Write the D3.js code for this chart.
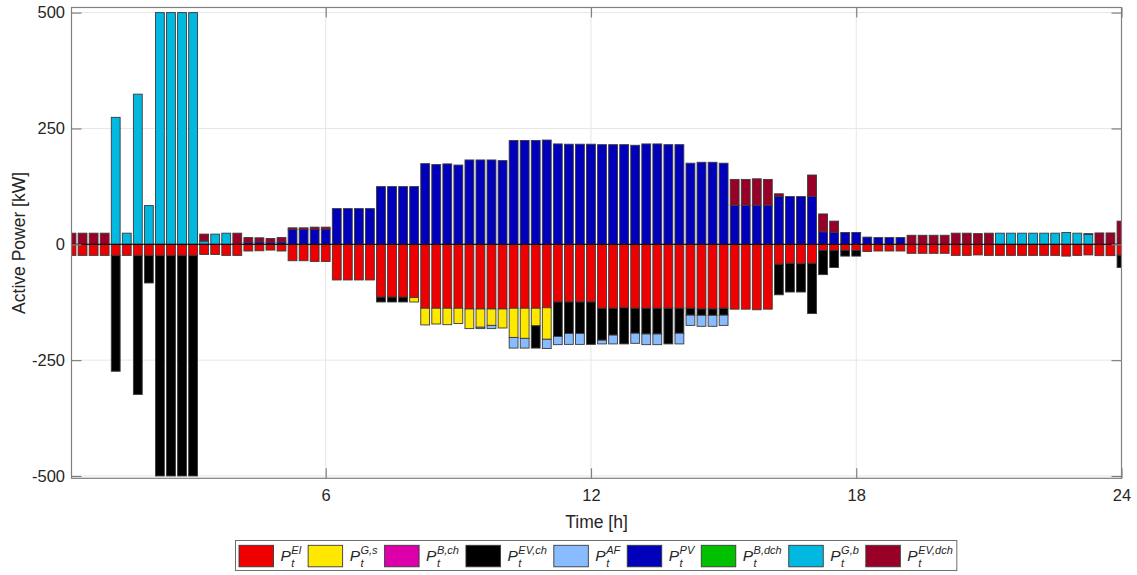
<!DOCTYPE html>
<html>
<head>
<meta charset="utf-8">
<script src="https://cdn.jsdelivr.net/npm/d3@7"></script>
<style>
  html, body { margin: 0; padding: 0; background: #ffffff; }
  svg { display: block; font-family: "Liberation Sans", Arial, Helvetica, sans-serif; }
</style>
</head>
<body>
<svg id="chart" width="1137" height="575"></svg>
<script>
// Time axis: 96 quarter-hour slots, t = 0.25 ... 24 h
const hours = d3.range(1, 97).map(k => k * 0.25);

// Active power per slot [kW]; consumption negative, supply positive (12 slots per row = 3 h)
const pEl = [
  -24, -24, -24, -24, -24, -24, -24, -24, -24, -24, -24, -24,
  -22, -22, -24, -24, -14.5, -14, -12.5, -14.5, -35.5, -35.5, -37, -37,
  -77, -77, -77, -77, -114, -114, -114, -115, -138, -138, -138, -138,
  -139.6, -139.6, -139.6, -139.6, -138, -138, -138, -137, -124.5, -124.5, -124.5, -124.5,
  -138, -138, -137, -138, -138, -138, -138, -138, -138, -139.6, -139.6, -138,
  -140, -140, -141.3, -140, -43, -41, -42, -41, -13, -13, -13, -13,
  -15.5, -14.5, -14.5, -14.5, -19.5, -19.5, -19.5, -19.5, -24, -24, -23, -24,
  -24, -24, -24, -24, -24, -24, -25.5, -24, -23, -24.5, -24.5, -23.5
];
const pGs = [
  0, 0, 0, 0, 0, 0, 0, 0, 0, 0, 0, 0,
  0, 0, 0, 0, 0, 0, 0, 0, 0, 0, 0, 0,
  0, 0, 0, 0, 0, 0, 0, -9.5, -36, -34, -35.5, -33,
  -42.4, -39.4, -35.4, -41, -63, -65, -38, -68, 0, 0, 0, 0,
  0, 0, 0, 0, 0, 0, 0, 0, 0, 0, 0, 0,
  0, 0, 0, 0, 0, 0, 0, 0, 0, 0, 0, 0,
  0, 0, 0, 0, 0, 0, 0, 0, 0, 0, 0, 0,
  0, 0, 0, 0, 0, 0, 0, 0, 0, 0, 0, 0
];
const pBch = hours.map(() => 0);
const pEVch = [
  0, 0, 0, 0, -250, 0, -300, -59.5, -476, -476, -476, -476,
  0, 0, 0, 0, 0, 0, 0, 0, 0, 0, 0, 0,
  0, 0, 0, 0, -10.5, -10.5, -10.5, 0, 0, 0, 0, 0,
  0, 0, 0, 0, 0, 0, -48, 0, -74.5, -68, -68, -91.5,
  -69, -58, -78, -54, -55.6, -55.6, -77, -54, -15, -13.7, -13.7, -15,
  0, 0, 0, 0, -66, -62, -61, -108.5, -52.5, -37, -12.5, -12.5,
  0, 0, 0, 0, 0, 0, 0, 0, 0, 0, 0, 0,
  0, 0, 0, 0, 0, 0, 0, 0, 0, 0, 0, -26.5
];
const pAF = [
  0, 0, 0, 0, 0, 0, 0, 0, 0, 0, 0, 0,
  0, 0, 0, 0, 0, 0, 0, 0, 0, 0, 0, 0,
  0, 0, 0, 0, 0, 0, 0, 0, 0, 0, 0, 0,
  0, -3, -7, 0, -23, -21, 0, -20, -17.6, -23.5, -23.5, 0,
  -8, -19, 0, -21.7, -23, -23, 0, -23, -22, -23.7, -23.7, -22,
  0, 0, 0, 0, 0, 0, 0, 0, 0, 0, 0, 0,
  0, 0, 0, 0, 0, 0, 0, 0, 0, 0, 0, 0,
  0, 0, 0, 0, 0, 0, 0, 0, 0, 0, 0, 0
];
const pPV = [
  0, 0, 0, 0, 0, 0, 0, 0, 0, 0, 0, 0,
  0, 0, 0, 0, 4, 5, 4, 5, 32, 32, 32, 32,
  77, 77, 77, 77, 124.5, 124.5, 124.5, 124.5, 174, 172, 173.5, 171,
  182, 182, 182, 180.6, 224, 224, 224, 225, 216.6, 216, 216, 216,
  215, 215, 215, 213.7, 216.6, 216.6, 215, 215, 175, 177, 177, 175,
  84.3, 84.3, 84.3, 84.3, 103, 103, 103, 103, 27, 25.5, 25.5, 25.5,
  15.5, 14.5, 14.5, 14.5, 0, 0, 0, 0, 0, 0, 0, 0,
  0, 0, 0, 0, 0, 0, 0, 0, 0, 0, 0, 0
];
const pBdch = hours.map(() => 0);
const pGb = [
  0, 0, 0, 0, 274, 24, 324, 83.5, 500, 500, 500, 500,
  7, 22, 24, 0, 0, 0, 0, 0, 0, 0, 0, 0,
  0, 0, 0, 0, 0, 0, 0, 0, 0, 0, 0, 0,
  0, 0, 0, 0, 0, 0, 0, 0, 0, 0, 0, 0,
  0, 0, 0, 0, 0, 0, 0, 0, 0, 0, 0, 0,
  0, 0, 0, 0, 0, 0, 0, 0, 0, 0, 0, 0,
  0, 0, 0, 0, 0, 0, 0, 0, 0, 0, 0, 0,
  24, 24, 24, 24, 24, 24, 25.5, 24, 21, 0, 0, 0
];
const pEVdch = [
  24, 24, 24, 24, 0, 0, 0, 0, 0, 0, 0, 0,
  15, 0, 0, 24, 10.5, 9, 8.5, 9.5, 3.5, 3.5, 5, 5,
  0, 0, 0, 0, 0, 0, 0, 0, 0, 0, 0, 0,
  0, 0, 0, 0, 0, 0, 0, 0, 0, 0, 0, 0,
  0, 0, 0, 0, 0, 0, 0, 0, 0, 0, 0, 0,
  55.7, 55.7, 57, 55.7, 6, 0, 0, 46.5, 38.5, 24.5, 0, 0,
  0, 0, 0, 0, 19.5, 19.5, 19.5, 19.5, 24, 24, 23, 24,
  0, 0, 0, 0, 0, 0, 0, 0, 2, 24.5, 24.5, 50
];

// Series in legend order: key, values, fill colour, label superscript
const seriesKeys   = ["El", "Gs", "Bch", "EVch", "AF", "PV", "Bdch", "Gb", "EVdch"];
const seriesValues = [pEl, pGs, pBch, pEVch, pAF, pPV, pBdch, pGb, pEVdch];
const seriesColors = ["#ee0000", "#ffe800", "#dd00aa", "#000000", "#88bbff", "#0000bb", "#00c000", "#00b8e0", "#990028"];
const seriesSup    = ["El", "G,s", "B,ch", "EV,ch", "AF", "PV", "B,dch", "G,b", "EV,dch"];

const xTicks = [6, 12, 18, 24];
const yTicks = [-500, -250, 0, 250, 500];

// Table for d3.stack
const table = hours.map((t, i) => {
  const row = { t };
  seriesKeys.forEach((k, j) => { row[k] = seriesValues[j][i]; });
  return row;
});

const svg = d3.select("#chart");
const plot = { left: 71.5, right: 1121.5, top: 7.5, bottom: 478.3 };

const x = d3.scaleLinear().domain([0.25, 24]).range([plot.left, plot.right]);
const y = d3.scaleLinear().domain([-505, 511]).range([plot.bottom, plot.top]);
const barW = (x(0.25 * 0.8) - x(0));

svg.append("defs").append("clipPath").attr("id", "plotClip")
  .append("rect")
  .attr("x", plot.left).attr("y", plot.top)
  .attr("width", plot.right - plot.left).attr("height", plot.bottom - plot.top);

// Grid
const grid = svg.append("g").attr("stroke", "#e6e6e6").attr("stroke-width", 1);
grid.selectAll("line.gx").data(xTicks).join("line")
  .attr("x1", d => x(d)).attr("x2", d => x(d))
  .attr("y1", plot.top).attr("y2", plot.bottom);
grid.selectAll("line.gy").data(yTicks).join("line")
  .attr("x1", plot.left).attr("x2", plot.right)
  .attr("y1", d => y(d)).attr("y2", d => y(d));

// Stacked bars (positive parts upward, negative parts downward)
const stacked = d3.stack().keys(seriesKeys).offset(d3.stackOffsetDiverging)(table);

const bars = svg.append("g").attr("clip-path", "url(#plotClip)");
stacked.forEach((layer, j) => {
  bars.append("g")
    .attr("fill", seriesColors[j])
    .attr("stroke", "#3a3a3a")
    .attr("stroke-width", 0.9)
    .selectAll("rect")
    .data(layer.filter(d => d[1] !== d[0]))
    .join("rect")
    .attr("x", d => x(d.data.t) - barW / 2)
    .attr("width", barW)
    .attr("y", d => y(Math.max(d[0], d[1])))
    .attr("height", d => Math.abs(y(d[0]) - y(d[1])));
});

// Bar baseline at 0
svg.append("line")
  .attr("x1", plot.left).attr("x2", plot.right)
  .attr("y1", y(0)).attr("y2", y(0))
  .attr("stroke", "#000").attr("stroke-width", 1);

// Axes box and inward ticks
const axisColor = "#808080";
const tickLen = 10;
const frame = svg.append("g").attr("stroke", axisColor).attr("stroke-width", 1.2).attr("fill", "none");
frame.append("rect")
  .attr("x", plot.left).attr("y", plot.top)
  .attr("width", plot.right - plot.left).attr("height", plot.bottom - plot.top);

const axisLeft = d3.axisLeft(y).tickValues(yTicks).tickSizeInner(-tickLen).tickSizeOuter(0)
  .tickPadding(6.5).tickFormat(d => String(d));
const axisRight = d3.axisRight(y).tickValues(yTicks).tickSizeInner(-tickLen).tickSizeOuter(0).tickFormat("");
const axisBottom = d3.axisBottom(x).tickValues(xTicks).tickSizeInner(-tickLen).tickSizeOuter(0)
  .tickPadding(10.5).tickFormat(d => String(d));
const axisTop = d3.axisTop(x).tickValues(xTicks).tickSizeInner(-tickLen).tickSizeOuter(0).tickFormat("");

function styleAxis(g) {
  g.select(".domain").remove();
  g.selectAll(".tick line").attr("stroke", axisColor).attr("stroke-width", 1.2);
  g.selectAll(".tick text").attr("fill", "#262626").attr("font-size", 16.5)
    .attr("font-family", "'Liberation Sans', Arial, sans-serif");
}
svg.append("g").attr("transform", `translate(${plot.left},0)`).call(axisLeft).call(styleAxis);
svg.append("g").attr("transform", `translate(${plot.right},0)`).call(axisRight).call(styleAxis);
svg.append("g").attr("transform", `translate(0,${plot.bottom})`).call(axisBottom).call(styleAxis);
svg.append("g").attr("transform", `translate(0,${plot.top})`).call(axisTop).call(styleAxis);

// Axis titles
svg.append("text")
  .attr("x", (plot.left + plot.right) / 2).attr("y", 528)
  .attr("text-anchor", "middle").attr("font-size", 17.5).attr("fill", "#262626")
  .text("Time [h]");
svg.append("text")
  .attr("transform", `translate(25,${(plot.top + plot.bottom) / 2}) rotate(-90)`)
  .attr("text-anchor", "middle").attr("font-size", 17.5).attr("fill", "#262626")
  .text("Active Power [kW]");

// Legend
const legend = svg.append("g");
const legBox = legend.append("rect").attr("fill", "#fff").attr("stroke", "#6e6e6e").attr("stroke-width", 1);
const leg = { left: 235.5, top: 540.5, height: 30, patchW: 34.5, patchH: 21.5, pad: 3.5, gapIn: 7, gapOut: 7 };
let cx = leg.left + leg.pad;
seriesKeys.forEach((k, j) => {
  legend.append("rect")
    .attr("x", cx).attr("y", leg.top + 4.8)
    .attr("width", leg.patchW).attr("height", leg.patchH)
    .attr("fill", seriesColors[j]).attr("stroke", "#3a3a3a").attr("stroke-width", 0.9);
  cx += leg.patchW + leg.gapIn;
  const p = legend.append("text")
    .attr("x", cx).attr("y", leg.top + 20.5)
    .attr("font-size", 15.5).attr("font-style", "italic").attr("fill", "#262626")
    .text("P");
  const pw = p.node().getComputedTextLength() + 0.5;
  const sup = legend.append("text")
    .attr("x", cx + pw).attr("y", leg.top + 13)
    .attr("font-size", 11).attr("font-style", "italic").attr("fill", "#262626")
    .text(seriesSup[j]);
  const sub = legend.append("text")
    .attr("x", cx + pw).attr("y", leg.top + 26)
    .attr("font-size", 11).attr("font-style", "italic").attr("fill", "#262626")
    .text("t");
  const sw = Math.max(sup.node().getComputedTextLength(), sub.node().getComputedTextLength());
  cx += pw + sw;
  if (j < seriesKeys.length - 1) cx += leg.gapOut;
});
legBox.attr("x", leg.left).attr("y", leg.top)
  .attr("width", cx + 4 - leg.left).attr("height", leg.height);
</script>
</body>
</html>
